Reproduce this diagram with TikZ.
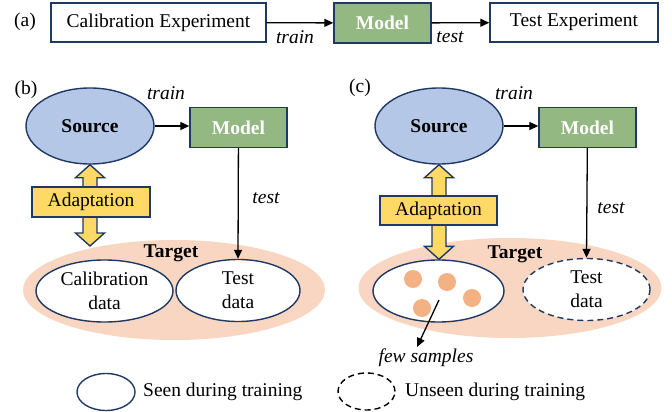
\documentclass[tikz,border=0pt]{standalone}
\usepackage{fontspec}
\setmainfont{Liberation Serif}
\usepackage{tikz}
\usetikzlibrary{shapes.geometric,arrows.meta,calc}

\definecolor{navy}{RGB}{32,56,100}
\definecolor{srcblue}{RGB}{180,199,231}
\definecolor{modelgreen}{RGB}{147,184,130}
\definecolor{adaptgold}{RGB}{255,217,102}
\definecolor{peach}{RGB}{249,214,193}
\definecolor{dotorange}{RGB}{244,177,131}

\tikzset{
  txt/.style={inner sep=0pt,font=\fontsize{19.5}{24}\selectfont},
  expbox/.style={txt,draw=navy,line width=1.4pt,fill=white,minimum height=39pt},
  modelbox/.style={txt,draw=navy,line width=1.4pt,fill=modelgreen,text=white,font=\fontsize{19.5}{24}\selectfont\bfseries,minimum width=97pt,minimum height=40pt},
  srcell/.style={ellipse,txt,draw=navy,line width=1.4pt,fill=srcblue,font=\fontsize{19.5}{24}\selectfont\bfseries,minimum width=128pt,minimum height=76pt},
  tgtell/.style={ellipse,inner sep=0pt,fill=peach,minimum width=302pt,minimum height=100pt},
  dataell/.style={ellipse,txt,draw=navy,line width=1.4pt,fill=white,align=center,minimum height=62pt},
  adaptbox/.style={txt,draw=navy,line width=1.4pt,fill=adaptgold,minimum width=118pt,minimum height=30pt},
  fatarrow/.style={draw=navy,line width=1.4pt,fill=adaptgold,line join=miter},
  conn/.style={-{Triangle[length=9pt,width=8pt]},line width=1.3pt},
  lbl/.style={txt,font=\fontsize{19.5}{24}\selectfont\itshape},
  bold/.style={txt,font=\fontsize{19.5}{24}\selectfont\bfseries},
  sample/.style={circle,fill=dotorange,minimum size=18pt,inner sep=0pt},
  unseen/.style={dash pattern=on 6pt off 4pt}
}

\newcommand{\adaptarrow}[2]{%
  \draw[fatarrow] let \p1=(#1), \p2=(#2) in
    (\x1,\y1) -- (\x1+14.5pt,\y1-13pt) -- (\x1+7pt,\y1-13pt) -- (\x1+7pt,\y2+13pt) -- (\x1+14.5pt,\y2+13pt) -- (\x1,\y2)
    -- (\x1-14.5pt,\y2+13pt) -- (\x1-7pt,\y2+13pt) -- (\x1-7pt,\y1-13pt) -- (\x1-14.5pt,\y1-13pt) -- cycle;}

\begin{document}
\begin{tikzpicture}[x=1pt,y=-1pt]
    \useasboundingbox (0,0) rectangle (672,412);

    % (a)
    \node[txt] (labA) at (25,22) {(a)};
    \node[expbox,minimum width=215pt] (calexp) at (158.5,22.5) {Calibration Experiment};
    \node[modelbox] (modelA) at (382.5,23) {Model};
    \node[expbox,minimum width=168pt] (testexp) at (574,22.5) {Test Experiment};
    \draw[conn] (calexp) -- (modelA);
    \draw[conn] (modelA) -- (testexp);
    \node[lbl] (trainA) at (295,37) {train};
    \node[lbl] (testA) at (450,37) {test};

    % (b)
    \node[txt] (labB) at (26,90) {(b)};
    \node[tgtell] (tgtB) at (174,290) {};
    \node[bold] (tgtlabB) at (171,253) {Target};
    \node[dataell,minimum width=137pt] (calB) at (104.5,291) {Calibration\\data};
    \node[dataell,minimum width=124pt] (testB) at (238,290.5) {Test\\data};
    \node[srcell] (srcB) at (90,126) {Source};
    \node[modelbox] (modelB) at (238.5,127.5) {Model};
    \draw[conn] (srcB) -- (srcB.east -| modelB.west);
    \draw[conn] (modelB) -- (testB.north);
    \node[lbl] (trainB) at (166,93) {train};
    \node[lbl] (testlabB) at (266,198) {test};
    \coordinate (tipB) at (91,246);
    \adaptarrow{srcB.south}{tipB}
    \node[adaptbox] (adaptB) at (91,202) {Adaptation};

    % (c)
    \node[txt] (labC) at (360,88) {(c)};
    \node[tgtell,minimum width=303pt] (tgtC) at (510,288) {};
    \node[bold] (tgtlabC) at (515,254) {Target};
    \node[dataell,minimum width=131pt] (seenC) at (438.5,291) {};
    \node[dataell,minimum width=127pt,unseen] (testC) at (586.5,289.5) {Test\\data};
    \node[sample] (s1) at (413,279) {};
    \node[sample] (s2) at (447,282) {};
    \node[sample] (s3) at (472,298) {};
    \node[sample] (s4) at (422,308) {};
    \node[srcell] (srcC) at (439,126) {Source};
    \node[modelbox] (modelC) at (587.5,127.5) {Model};
    \draw[conn] (srcC) -- (srcC.east -| modelC.west);
    \draw[conn] (modelC) -- (testC.north);
    \node[lbl] (trainC) at (514,93) {train};
    \node[lbl] (testlabC) at (611,208) {test};
    \adaptarrow{srcC.south}{seenC.north}
    \node[adaptbox,minimum width=117pt,minimum height=29pt] (adaptC) at (438.5,210.5) {Adaptation};
    \node[lbl] (few) at (426,358) {few samples};
    \coordinate (pick) at (439,300);
    \coordinate (fewtip) at (417,347);
    \draw[conn] (pick) -- (fewtip);

    % legend
    \node[ellipse,draw=navy,line width=1.4pt,minimum width=58pt,minimum height=37pt] (legseen) at (106,392) {};
    \node[txt,anchor=west] (legseentxt) at (143,392) {Seen during training};
    \node[ellipse,draw=black,line width=1.4pt,unseen,minimum width=57pt,minimum height=37pt] (legunseen) at (366.5,391.5) {};
    \node[txt,anchor=west] (legunseentxt) at (405,392) {Unseen during training};
\end{tikzpicture}
\end{document}
